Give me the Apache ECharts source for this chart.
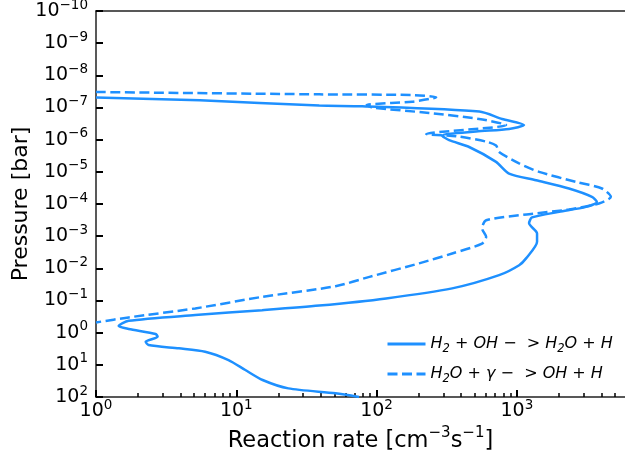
<!DOCTYPE html>
<html>
<head>
<meta charset="utf-8">
<script src="https://cdn.jsdelivr.net/npm/echarts@6/dist/echarts.min.js"></script>
<style>
  html, body { margin: 0; padding: 0; background: #fff; }
  #chart { width: 625px; height: 458px; }
</style>
</head>
<body>
<div id="chart"></div>
<script>
// H2 + OH -> H2O + H  (solid)
var solidRate = [1, 5.5, 39, 79, 540, 785, 1125, 880, 512, 293, 329, 457, 711, 880, 1370, 2350, 3430, 3720, 3110, 2000,
  1283, 1222, 1393, 1393, 1163, 1038, 747, 346, 117, 39, 15.3, 5.1, 1.71, 1.45, 1.71, 2.66, 2.75, 2.26, 2.37, 3.9,
  6.0, 8.8, 11.6, 15.4, 23.5, 51, 75];
var solidPressure = [4.9e-8, 6.0e-8, 8.7e-8, 9.2e-8, 1.34e-7, 2.27e-7, 3.5e-7, 4.65e-7, 5.6e-7, 7.5e-7, 1.04e-6, 1.69e-6,
  4.9e-6, 1.13e-5, 1.82e-5, 3.3e-5, 6.0e-5, 8.6e-5, 1.23e-4, 1.76e-4, 2.62e-4, 4.0e-4, 8.2e-4, 1.5e-3, 4.9e-3, 8.0e-3,
  1.63e-2, 4.2e-2, 8.6e-2, 0.144, 0.2, 0.284, 0.427, 0.62, 0.77, 1.1, 1.34, 1.92, 2.43, 3.07, 3.9, 7.1, 14.5, 29.6,
  54, 77, 100];

// H2O + gamma -> OH + H  (dashed)
var dashRate = [1, 39, 179, 266, 179, 85, 93, 237, 538, 838, 226, 370, 605, 711, 747, 1037, 1440, 2640, 4040, 4680,
  3850, 2350, 1222, 604, 565, 604, 565, 346, 201, 89, 51, 15.3, 5.1, 1.71, 1];
var dashPressure = [3.3e-8, 3.9e-8, 4.1e-8, 4.8e-8, 6.6e-8, 8.4e-8, 1.0e-7, 1.48e-7, 2.27e-7, 3.5e-7, 6.65e-7, 7.8e-7,
  1.15e-6, 1.52e-6, 2.4e-6, 5.5e-6, 1.0e-5, 2.06e-5, 3.3e-5, 6.0e-5, 9.6e-5, 1.48e-4, 2.07e-4, 3.2e-4, 5.8e-4, 1.05e-3,
  1.7e-3, 3.45e-3, 7.0e-3, 1.84e-2, 3.6e-2, 7.7e-2, 0.176, 0.335, 0.48];

var xMin = 1, xMax = 5900;
var yMin = 1e-10, yMax = 100;
var xMajorTicks = [1, 10, 100, 1000];
var xMinorTicks = [2, 3, 4, 5, 6, 7, 8, 9, 20, 30, 40, 50, 60, 70, 80, 90,
  200, 300, 400, 500, 600, 700, 800, 900, 2000, 3000, 4000, 5000];
var yMajorTicks = [1e-10, 1e-9, 1e-8, 1e-7, 1e-6, 1e-5, 1e-4, 1e-3, 1e-2, 1e-1, 1, 10, 100];

var seriesNames = ['H2 + OH -> H2O + H', 'H2O + gamma -> OH + H'];
var legendRich = {};
legendRich[seriesNames[0]] = '{i|H}{u|2}{i| + OH −  > H}{u|2}{i|O + H}';
legendRich[seriesNames[1]] = '{i|H}{u|2}{i|O + γ −  > OH + H}';

var FONT = 'DejaVu Sans';
var color = '#1e90ff';

function pairs(xs, ys) {
  var out = [];
  for (var i = 0; i < xs.length; i++) out.push([xs[i], ys[i]]);
  return out;
}
function logs(arr) {
  return arr.map(function (v) { return Math.log10(v); });
}

function powLabel(v) {
  var e = Math.round(Math.log10(v));
  return '{b|10}{s|' + (e < 0 ? '−' + (-e) : e) + '}';
}

var tickRich = {
  b: { fontFamily: FONT, fontSize: 19, lineHeight: 26, color: '#000' },
  s: { fontFamily: FONT, fontSize: 13.5, lineHeight: 14, verticalAlign: 'top', color: '#000' }
};

// tick-only axis in log10 space
function tickAxis(pos, min, max, values, len, width, inverse) {
  return {
    type: 'value', position: pos, min: min, max: max, inverse: !!inverse,
    axisLine: { show: false, onZero: false },
    axisTick: { show: true, inside: true, length: len, customValues: values, lineStyle: { color: '#000', width: width } },
    axisLabel: { show: false },
    splitLine: { show: false }
  };
}

var chart = echarts.init(document.getElementById('chart'), null, { renderer: 'canvas' });

var option = {
  animation: false,
  backgroundColor: '#fff',
  grid: { left: 96, right: 0, top: 11, bottom: 61, outerBoundsMode: 'none', containLabel: false },
  legend: {
    orient: 'vertical',
    left: 386,
    top: 336,
    padding: 0,
    itemWidth: 38,
    itemHeight: 16,
    itemGap: 11,
    data: seriesNames,
    formatter: function (name) { return legendRich[name]; },
    itemStyle: { opacity: 0 },
    lineStyle: { width: 3 },
    textStyle: {
      rich: {
        i: { fontFamily: FONT, fontSize: 16, fontStyle: 'italic', lineHeight: 16, color: '#000' },
        u: { fontFamily: FONT, fontSize: 11.5, fontStyle: 'italic', lineHeight: 11, verticalAlign: 'bottom', padding: [0, 0, -3, 0], color: '#000' }
      }
    }
  },
  xAxis: [{
    type: 'log',
    min: xMin,
    max: xMax,
    position: 'bottom',
    name: '{b|Reaction rate [cm}{s|−3}{b|s}{s|−1}{b|]}',
    nameLocation: 'middle',
    nameGap: 29,
    nameMoveOverlap: false,
    nameTextStyle: {
      rich: {
        b: { fontFamily: FONT, fontSize: 22.5, lineHeight: 30, color: '#000' },
        s: { fontFamily: FONT, fontSize: 15, lineHeight: 15, verticalAlign: 'top', color: '#000' }
      }
    },
    axisLine: { show: true, onZero: false, lineStyle: { color: '#222', width: 1.5 } },
    axisTick: { show: false },
    axisLabel: { customValues: xMajorTicks, formatter: powLabel, rich: tickRich, margin: 1 },
    splitLine: { show: false }
  },
  tickAxis('bottom', 0, Math.log10(xMax), logs(xMajorTicks), 7, 2),
  tickAxis('bottom', 0, Math.log10(xMax), logs(xMinorTicks), 4, 1.5),
  {
    type: 'log',
    min: xMin,
    max: xMax,
    position: 'top',
    axisLine: { show: true, onZero: false, lineStyle: { color: '#222', width: 1.5 } },
    axisTick: { show: false },
    axisLabel: { show: false },
    splitLine: { show: false }
  }],
  yAxis: [{
    type: 'log',
    inverse: true,
    min: yMin,
    max: yMax,
    position: 'left',
    name: 'Pressure [bar]',
    nameLocation: 'middle',
    nameGap: 64,
    nameMoveOverlap: false,
    nameTextStyle: { fontFamily: FONT, fontSize: 22, color: '#000' },
    axisLine: { show: true, onZero: false, lineStyle: { color: '#222', width: 1.5 } },
    axisTick: { show: false },
    axisLabel: { customValues: yMajorTicks, formatter: powLabel, rich: tickRich, margin: 8 },
    splitLine: { show: false }
  },
  tickAxis('left', Math.log10(yMin), Math.log10(yMax), logs(yMajorTicks), 7, 2, true)
  ],
  series: [{
    name: seriesNames[0],
    type: 'line',
    xAxisIndex: 0,
    yAxisIndex: 0,
    data: pairs(solidRate, solidPressure),
    symbol: 'none',
    smooth: 0.25,
    lineStyle: { color: color, width: 2.5 },
    itemStyle: { color: color }
  }, {
    name: seriesNames[1],
    type: 'line',
    xAxisIndex: 0,
    yAxisIndex: 0,
    data: pairs(dashRate, dashPressure),
    symbol: 'none',
    smooth: 0.25,
    lineStyle: { color: color, width: 2.5, type: [10, 4.5] },
    itemStyle: { color: color }
  }]
};

chart.setOption(option);
</script>
</body>
</html>
